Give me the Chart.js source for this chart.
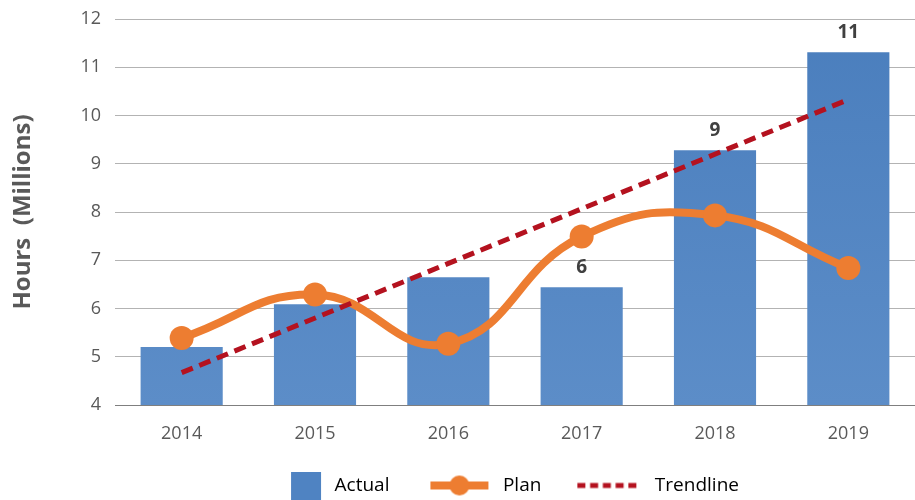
<!DOCTYPE html>
<html>
<head>
<meta charset="utf-8">
<script src="https://cdn.jsdelivr.net/npm/chart.js@4.4.1/dist/chart.umd.min.js"></script>
<style>
    html, body { margin: 0; padding: 0; background: #ffffff; overflow: hidden; }
    #wrap { width: 915px; height: 500px; }
    #hoursChart { display: block; }
</style>
</head>
<body>
<div id="wrap"><canvas id="hoursChart" width="915" height="500"></canvas></div>
<script>
// values
var years = ['2014', '2015', '2016', '2017', '2018', '2019'];
var actual = [5.2, 6.09, 6.65, 6.44, 9.28, 11.31];
var plan = [5.39, 6.29, 5.27, 7.49, 7.93, 6.84];
var trend = [4.67, null, null, null, null, 10.33];
var barLabels = ['', '', '', '6', '9', '11'];
var yTicks = [4, 5, 6, 7, 8, 9, 10, 11, 12];

var FONT = "'Open Sans', 'Liberation Sans', sans-serif";

function makeMarker(w, h, draw) {
    var c = document.createElement('canvas');
    c.width = w;
    c.height = h;
    draw(c.getContext('2d'));
    return c;
}

// legend symbols, 90px wide slots
var markActual = makeMarker(90, 28, function (g) {
    g.fillStyle = '#4f83c2';
    g.fillRect(56, 0, 30, 28);
});
var markPlan = makeMarker(90, 22, function (g) {
    g.strokeStyle = '#ed7d31';
    g.lineWidth = 8;
    g.beginPath();
    g.moveTo(27, 11);
    g.lineTo(85, 11);
    g.stroke();
    g.fillStyle = '#ed7d31';
    g.beginPath();
    g.arc(56, 11, 10, 0, Math.PI * 2);
    g.fill();
});
var markTrend = makeMarker(90, 8, function (g) {
    g.strokeStyle = '#b4121f';
    g.lineWidth = 5;
    g.setLineDash([8, 4.75]);
    g.beginPath();
    g.moveTo(22, 4);
    g.lineTo(82, 4);
    g.stroke();
});
var markers = [markActual, markPlan, markTrend];

function barFill(context) {
    var area = context.chart.chartArea;
    if (!area) {
        return '#4f83c2';
    }
    var grad = context.chart.ctx.createLinearGradient(0, area.top, 0, area.bottom);
    grad.addColorStop(0, '#4a7ebd');
    grad.addColorStop(1, '#5c8dc8');
    return grad;
}

// value labels above the bars
var barValueLabels = {
    id: 'barValueLabels',
    afterDatasetsDraw: function (chart) {
        var meta = chart.getDatasetMeta(0);
        var ctx = chart.ctx;
        ctx.save();
        ctx.font = 'bold 19px ' + FONT;
        ctx.fillStyle = '#404040';
        ctx.textAlign = 'center';
        ctx.textBaseline = 'middle';
        meta.data.forEach(function (bar, i) {
            if (barLabels[i]) {
                ctx.fillText(barLabels[i], bar.x, bar.y - 20);
            }
        });
        ctx.restore();
    }
};

// nudge the legend a bit left and down like the original
var legendNudge = {
    id: 'legendNudge',
    afterLayout: function (chart) {
        var lg = chart.legend;
        if (!lg) return;
        lg.left -= 28;
        lg.right -= 28;
        lg.top += 5;
        lg.bottom += 5;
    }
};

var ctx = document.getElementById('hoursChart');
var hoursChart = new Chart(ctx, {
    type: 'bar',
    data: {
        labels: years,
        datasets: [
            {
                label: 'Actual',
                data: actual,
                backgroundColor: barFill,
                categoryPercentage: 0.8,
                barPercentage: 0.77,
                order: 2
            },
            {
                type: 'line',
                label: 'Plan',
                data: plan,
                borderColor: '#ed7d31',
                backgroundColor: '#ed7d31',
                borderWidth: 8,
                tension: 0.45,
                pointRadius: 12,
                pointHoverRadius: 12,
                pointBorderWidth: 0,
                order: 1
            },
            {
                type: 'line',
                label: 'Trendline',
                data: trend,
                spanGaps: true,
                borderColor: '#b4121f',
                borderWidth: 5,
                borderDash: [12, 7],
                pointRadius: 0,
                fill: false,
                order: 0
            }
        ]
    },
    options: {
        responsive: false,
        animation: false,
        layout: {
            autoPadding: false,
            padding: { top: 0, right: 0, bottom: 0, left: 6 }
        },
        plugins: {
            tooltip: { enabled: false },
            legend: {
                position: 'bottom',
                fullSize: false,
                labels: {
                    usePointStyle: true,
                    pointStyleWidth: 90,
                    padding: 14,
                    color: '#404040',
                    font: { family: FONT, size: 19 },
                    generateLabels: function (chart) {
                        return chart.data.datasets.map(function (ds, i) {
                            return {
                                text: ds.label,
                                pointStyle: markers[i],
                                fillStyle: 'transparent',
                                strokeStyle: 'transparent',
                                lineWidth: 0,
                                hidden: false,
                                datasetIndex: i
                            };
                        });
                    }
                }
            }
        },
        scales: {
            x: {
                grid: { display: false, drawTicks: false },
                border: { display: false },
                afterFit: function (axis) {
                    axis.height = 52;
                    axis.paddingLeft = 0;
                    axis.paddingRight = 0;
                },
                ticks: {
                    color: '#595959',
                    padding: 18,
                    font: { family: FONT, size: 18 }
                }
            },
            y: {
                min: 4,
                max: 12,
                afterBuildTicks: function (axis) {
                    axis.ticks = yTicks.map(function (v) { return { value: v }; });
                },
                afterFit: function (axis) {
                    axis.width = 109;
                    axis.paddingTop = 19;
                },
                grid: {
                    drawTicks: false,
                    color: function (c) {
                        return c.tick && c.tick.value === 4 ? '#7f7f7f' : '#b3b3b3';
                    },
                    lineWidth: 1
                },
                border: { display: false },
                ticks: {
                    color: '#595959',
                    padding: 14,
                    font: { family: FONT, size: 18 }
                },
                title: {
                    display: true,
                    text: 'Hours  (Millions)',
                    color: '#595959',
                    padding: { top: 3, bottom: 0 },
                    font: { family: FONT, size: 24, weight: 'bold' }
                }
            }
        }
    },
    plugins: [barValueLabels, legendNudge]
});
</script>
</body>
</html>
